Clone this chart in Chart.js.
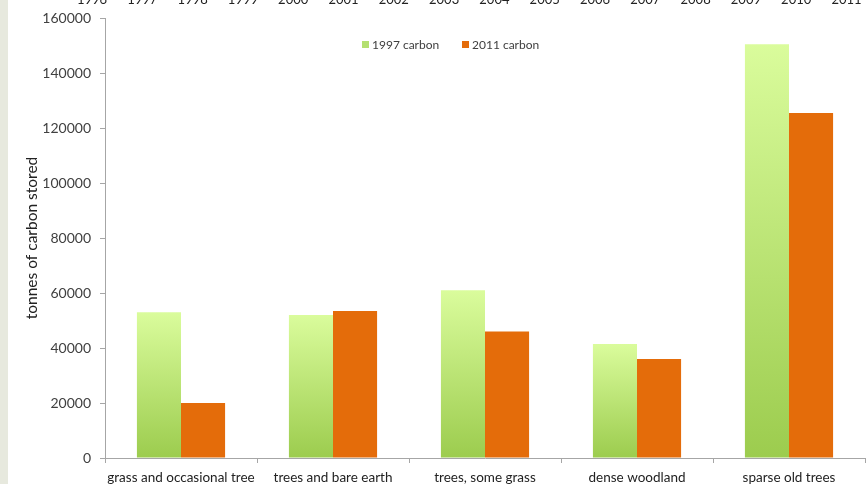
<!DOCTYPE html>
<html>
<head>
<meta charset="utf-8">
<script src="https://cdn.jsdelivr.net/npm/chart.js@4.4.1/dist/chart.umd.min.js"></script>
<style>
  html, body { margin: 0; padding: 0; background: #fff; }
  #wrap { position: relative; width: 866px; height: 484px; }
</style>
</head>
<body>
<div id="wrap"><canvas id="carbonChart" width="866" height="484"></canvas></div>
<script>
// land cover types and stored carbon (tonnes)
const landCover = ['grass and occasional tree', 'trees and bare earth', 'trees, some grass', 'dense woodland', 'sparse old trees'];
const carbon1997 = [53000, 52000, 61000, 41500, 150500];
const carbon2011 = [20000, 53500, 46000, 36000, 125500];
const yearRow = ['1996', '1997', '1998', '1999', '2000', '2001', '2002', '2003', '2004', '2005', '2006', '2007', '2008', '2009', '2010', '2011'];

const textColor = '#404040';
const axisColor = '#a6a6a6';

// light-to-dark green fill, one gradient per bar
function greenFill(context) {
    const chart = context.chart;
    const { ctx, chartArea, scales } = chart;
    if (!chartArea || context.parsed === undefined) return '#b8e070';
    const top = scales.y.getPixelForValue(context.parsed.y);
    const base = scales.y.getPixelForValue(0);
    const g = ctx.createLinearGradient(0, top, 0, base);
    g.addColorStop(0, '#dafc9c');
    g.addColorStop(1, '#9ccc4e');
    return g;
}

// strip of years along the top edge, legend and left margin band
const extras = {
    id: 'extras',
    beforeDraw(chart) {
        const ctx = chart.ctx;
        ctx.save();
        ctx.fillStyle = '#e7e9de';
        ctx.fillRect(0, 0, 8, chart.height);
        ctx.restore();
    },
    afterDraw(chart) {
        const ctx = chart.ctx;
        ctx.save();
        ctx.font = '13px Lato';
        ctx.fillStyle = '#222';
        ctx.textAlign = 'center';
        ctx.textBaseline = 'alphabetic';
        yearRow.forEach((y, i) => {
            ctx.fillText(y, 92 + i * 50.3, 4);
        });

        // legend
        ctx.font = '12px Lato';
        ctx.textAlign = 'left';
        ctx.textBaseline = 'middle';
        const items = [
            { label: '1997 carbon', color: '#b4e070', x: 362 },
            { label: '2011 carbon', color: '#e46c0a', x: 462 }
        ];
        items.forEach(it => {
            ctx.fillStyle = it.color;
            ctx.fillRect(it.x, 41, 7, 7);
            ctx.fillStyle = textColor;
            ctx.fillText(it.label, it.x + 10, 45);
        });
        ctx.restore();
    }
};

const chart = new Chart(document.getElementById('carbonChart'), {
    type: 'bar',
    data: {
        labels: landCover,
        datasets: [{
            label: '1997 carbon',
            data: carbon1997,
            backgroundColor: greenFill,
            borderWidth: 0
        }, {
            label: '2011 carbon',
            data: carbon2011,
            backgroundColor: '#e46c0a',
            borderWidth: 0
        }]
    },
    options: {
        responsive: false,
        animation: false,
        layout: { padding: { top: 18, right: 1, left: 23, bottom: 0 } },
        datasets: {
            bar: { categoryPercentage: 0.58, barPercentage: 1.0 }
        },
        plugins: {
            legend: { display: false },
            tooltip: { enabled: false }
        },
        scales: {
            x: {
                grid: {
                    display: true,
                    drawOnChartArea: false,
                    offset: true,
                    tickLength: 5,
                    color: axisColor
                },
                border: { color: axisColor },
                ticks: {
                    color: '#222',
                    font: { family: 'Lato', size: 13.5 },
                    padding: 7,
                    maxRotation: 0,
                    autoSkip: false
                },
                afterFit(scale) { scale.height = 26; }
            },
            y: {
                min: 0,
                max: 160000,
                grid: {
                    display: true,
                    drawOnChartArea: false,
                    tickLength: 5,
                    color: axisColor
                },
                border: { color: axisColor },
                ticks: {
                    stepSize: 20000,
                    color: textColor,
                    font: { family: 'Lato', size: 14 },
                    padding: 9,
                    callback: v => String(v)
                },
                title: {
                    display: true,
                    text: 'tonnes of carbon stored',
                    color: '#222',
                    font: { family: 'Lato', size: 15.5 },
                    padding: { top: 0, bottom: 1 }
                },
                afterFit(scale) { scale.width = 82; }
            }
        }
    },
    plugins: [extras]
});
</script>
</body>
</html>
